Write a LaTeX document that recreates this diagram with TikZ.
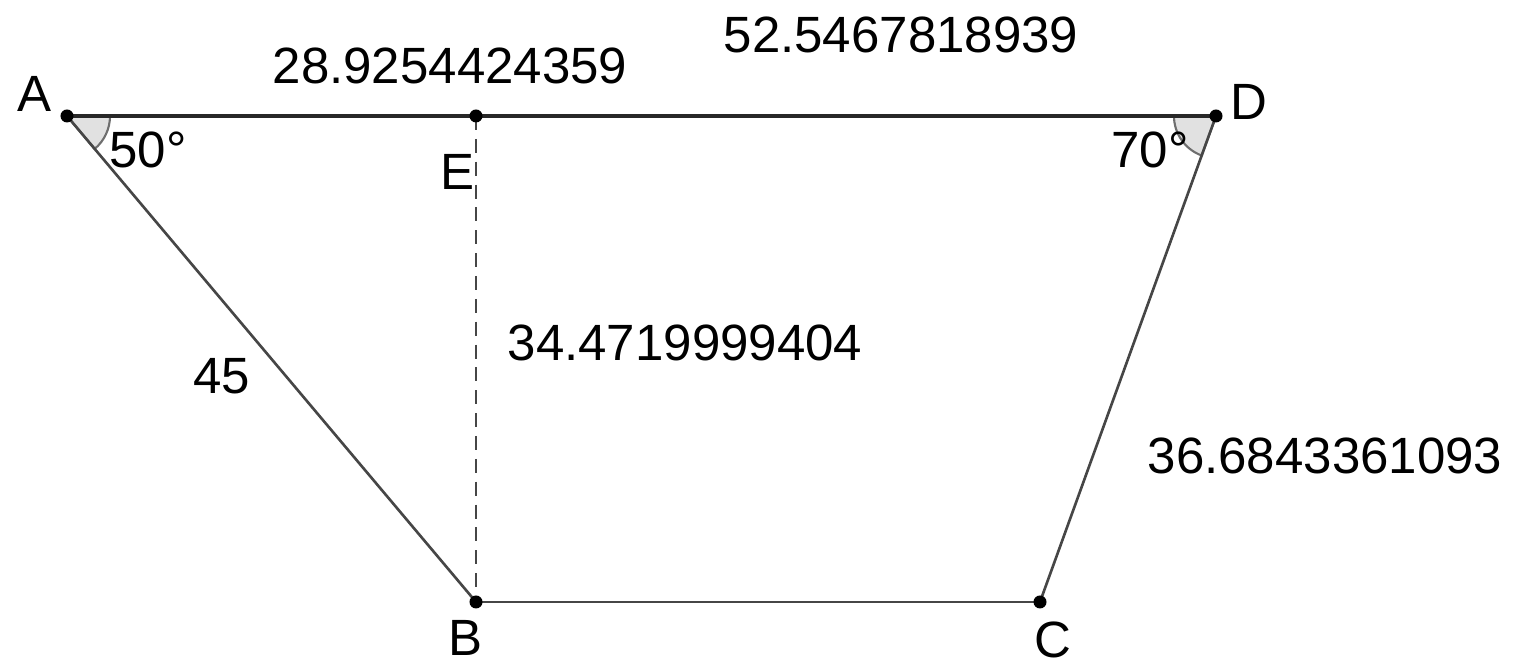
\documentclass[tikz,border=0pt]{standalone}
\usepackage{fontspec}
\setmainfont{Liberation Sans}
\usepackage{xcolor}
\usetikzlibrary{positioning}
\definecolor{edge}{RGB}{70,70,70}
\definecolor{topedge}{RGB}{40,40,40}
\definecolor{anglefill}{RGB}{225,225,225}
\definecolor{anglestroke}{RGB}{110,110,110}

\begin{document}
\begin{tikzpicture}[
  x=0.01cm, y=-0.01cm,
  side/.style={draw=edge, line width=0.75pt},
  top/.style={draw=topedge, line width=1.1pt},
  height/.style={draw=edge, line width=0.75pt, dash pattern=on 4pt off 2.5pt},
  pt/.style={circle, fill=black, inner sep=0pt, minimum size=0.13cm},
  lbl/.style={font=\fontsize{14.5}{16}\selectfont, inner sep=0pt},
  angmark/.style={fill=anglefill, draw=anglestroke, line width=0.6pt}
]
\useasboundingbox (0,0) rectangle (1529,665);

% points
\coordinate (A) at (67,116);
\coordinate (E) at (476,116);
\coordinate (D) at (1216,116);
\coordinate (B) at (476,602);
\coordinate (C) at (1040,602);

% angle marks
\path[angmark] (A) -- ++(0:0.43cm) arc[start angle=0, end angle=-50, radius=0.43cm] -- cycle;
\path[angmark] (D) -- ++(180:0.42cm) arc[start angle=180, end angle=250, radius=0.42cm] -- cycle;

% edges
\draw[side] (A) -- (B);
\draw[side] (B) -- (C);
\draw[side] (C) -- (D);
\draw[top] (A) -- (D);
\draw[height] (E) -- (B);

\foreach \p in {A,E,D,B,C}
  \node[pt] (dot\p) at (\p) {};

% vertex labels
\node[lbl] (labA) at (35,94) {A};
\node[lbl] (labD) at (1249,102) {D};
\node[lbl] (labE) at (458,172) {E};
\node[lbl] (labB) at (466,638) {B};
\node[lbl] (labC) at (1053,640) {C};

% angles
\node[lbl] (angA) at (148,150) {50°};
\node[lbl] (angD) at (1150,150) {70°};

% lengths
\node[lbl] (lenAE) at (450,66) {28.9254424359};
\node[lbl] (lenED) at (901,35) {52.5467818939};
\node[lbl] (lenAB) at (222,376) {45};
\node[lbl] (lenEB) at (685,343) {34.4719999404};
\node[lbl] (lenCD) at (1325,456) {36.6843361093};

\end{tikzpicture}
\end{document}
